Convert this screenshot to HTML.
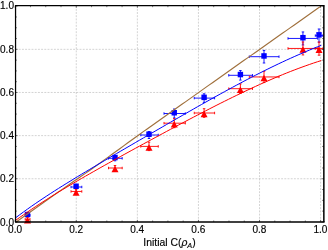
<!DOCTYPE html>
<html><head><meta charset="utf-8"><title>plot</title>
<style>html,body{margin:0;padding:0;background:#fff;}svg{display:block;}</style>
</head><body>
<svg width="328" height="250" viewBox="0 0 328 250">
<defs><filter id="nf" x="0" y="0" width="328" height="250" filterUnits="userSpaceOnUse" color-interpolation-filters="sRGB"><feColorMatrix type="matrix" values="1 0 0 0 0 0 1 0 0 0 0 0 1 0 0 0 0 0 1 0"/></filter></defs>
<rect width="328" height="250" fill="#fff"/>
<g stroke="#aeaeae" stroke-width="0.55" stroke-dasharray="1.9 1.3" fill="none"><line x1="76.28" y1="221.95" x2="76.28" y2="5.70"/><line x1="137.36" y1="221.95" x2="137.36" y2="5.70"/><line x1="198.44" y1="221.95" x2="198.44" y2="5.70"/><line x1="259.52" y1="221.95" x2="259.52" y2="5.70"/><line x1="320.60" y1="221.95" x2="320.60" y2="5.70"/><line x1="15.55" y1="178.76" x2="323.85" y2="178.76"/><line x1="15.55" y1="135.62" x2="323.85" y2="135.62"/><line x1="15.55" y1="92.48" x2="323.85" y2="92.48"/><line x1="15.55" y1="49.34" x2="323.85" y2="49.34"/></g>
<g stroke="#0000ff" stroke-width="0.9" fill="none"><path d="M25.20,215.30 H30.00 M27.50,213.70 V216.90"/><path d="M25.20,214.05 v2.50 M30.00,214.05 v2.50 M26.25,213.70 h2.50 M26.25,216.90 h2.50"/></g>
<rect x="24.80" y="211.80" width="5.4" height="5.5" fill="#0000ff"/>
<g stroke="#0000ff" stroke-width="0.9" fill="none"><path d="M71.00,187.00 H81.80 M76.10,185.20 V188.80"/><path d="M71.00,185.75 v2.50 M81.80,185.75 v2.50 M74.85,185.20 h2.50 M74.85,188.80 h2.50"/></g>
<rect x="73.40" y="183.50" width="5.4" height="5.5" fill="#0000ff"/>
<g stroke="#0000ff" stroke-width="0.9" fill="none"><path d="M108.50,158.30 H122.20 M115.00,155.80 V160.80"/><path d="M108.50,157.05 v2.50 M122.20,157.05 v2.50 M113.75,155.80 h2.50 M113.75,160.80 h2.50"/></g>
<rect x="112.30" y="154.80" width="5.4" height="5.5" fill="#0000ff"/>
<g stroke="#0000ff" stroke-width="0.9" fill="none"><path d="M140.75,135.00 H158.25 M149.00,131.50 V138.50"/><path d="M140.75,133.75 v2.50 M158.25,133.75 v2.50 M147.75,131.50 h2.50 M147.75,138.50 h2.50"/></g>
<rect x="146.30" y="131.50" width="5.4" height="5.5" fill="#0000ff"/>
<g stroke="#0000ff" stroke-width="0.9" fill="none"><path d="M164.00,113.50 H185.30 M174.25,109.00 V118.00"/><path d="M164.00,112.25 v2.50 M185.30,112.25 v2.50 M173.00,109.00 h2.50 M173.00,118.00 h2.50"/></g>
<rect x="171.55" y="110.00" width="5.4" height="5.5" fill="#0000ff"/>
<g stroke="#0000ff" stroke-width="0.9" fill="none"><path d="M194.25,98.10 H214.60 M204.10,93.80 V102.40"/><path d="M194.25,96.85 v2.50 M214.60,96.85 v2.50 M202.85,93.80 h2.50 M202.85,102.40 h2.50"/></g>
<rect x="201.40" y="94.60" width="5.4" height="5.5" fill="#0000ff"/>
<g stroke="#0000ff" stroke-width="0.9" fill="none"><path d="M228.75,75.30 H252.50 M240.40,70.50 V80.10"/><path d="M228.75,74.05 v2.50 M252.50,74.05 v2.50 M239.15,70.50 h2.50 M239.15,80.10 h2.50"/></g>
<rect x="237.70" y="71.80" width="5.4" height="5.5" fill="#0000ff"/>
<g stroke="#0000ff" stroke-width="0.9" fill="none"><path d="M249.30,56.70 H279.00 M264.00,50.40 V63.00"/><path d="M249.30,55.45 v2.50 M279.00,55.45 v2.50 M262.75,50.40 h2.50 M262.75,63.00 h2.50"/></g>
<rect x="261.30" y="53.20" width="5.4" height="5.5" fill="#0000ff"/>
<g stroke="#0000ff" stroke-width="0.9" fill="none"><path d="M288.00,38.45 H317.70 M302.95,31.95 V44.95"/><path d="M288.00,37.20 v2.50 M317.70,37.20 v2.50 M301.70,31.95 h2.50 M301.70,44.95 h2.50"/></g>
<rect x="300.25" y="34.95" width="5.4" height="5.5" fill="#0000ff"/>
<g stroke="#0000ff" stroke-width="0.9" fill="none"><path d="M315.30,35.60 H322.80 M319.00,29.00 V42.20"/><path d="M315.30,34.35 v2.50 M322.80,34.35 v2.50 M317.75,29.00 h2.50 M317.75,42.20 h2.50"/></g>
<rect x="316.30" y="32.10" width="5.4" height="5.5" fill="#0000ff"/>
<g stroke="#ff0000" stroke-width="0.9" fill="none"><path d="M25.20,219.30 H30.00 M27.50,217.70 V220.90"/><path d="M25.20,218.05 v2.50 M30.00,218.05 v2.50 M26.25,217.70 h2.50 M26.25,220.90 h2.50"/></g>
<path d="M27.50,217.10 L31.00,223.60 L24.00,223.60 Z" fill="#ff0000"/>
<g stroke="#ff0000" stroke-width="0.9" fill="none"><path d="M71.00,191.45 H81.80 M76.10,189.65 V193.25"/><path d="M71.00,190.20 v2.50 M81.80,190.20 v2.50 M74.85,189.65 h2.50 M74.85,193.25 h2.50"/></g>
<path d="M76.10,189.25 L79.60,195.75 L72.60,195.75 Z" fill="#ff0000"/>
<g stroke="#ff0000" stroke-width="0.9" fill="none"><path d="M108.50,168.00 H122.20 M115.00,165.50 V170.50"/><path d="M108.50,166.75 v2.50 M122.20,166.75 v2.50 M113.75,165.50 h2.50 M113.75,170.50 h2.50"/></g>
<path d="M115.00,165.80 L118.50,172.30 L111.50,172.30 Z" fill="#ff0000"/>
<g stroke="#ff0000" stroke-width="0.9" fill="none"><path d="M140.75,146.40 H158.25 M149.00,142.20 V150.60"/><path d="M140.75,145.15 v2.50 M158.25,145.15 v2.50 M147.75,142.20 h2.50 M147.75,150.60 h2.50"/></g>
<path d="M149.00,144.20 L152.50,150.70 L145.50,150.70 Z" fill="#ff0000"/>
<g stroke="#ff0000" stroke-width="0.9" fill="none"><path d="M164.00,123.20 H185.30 M174.25,118.70 V127.70"/><path d="M164.00,121.95 v2.50 M185.30,121.95 v2.50 M173.00,118.70 h2.50 M173.00,127.70 h2.50"/></g>
<path d="M174.25,121.00 L177.75,127.50 L170.75,127.50 Z" fill="#ff0000"/>
<g stroke="#ff0000" stroke-width="0.9" fill="none"><path d="M194.25,113.00 H214.60 M204.10,108.70 V117.30"/><path d="M194.25,111.75 v2.50 M214.60,111.75 v2.50 M202.85,108.70 h2.50 M202.85,117.30 h2.50"/></g>
<path d="M204.10,110.80 L207.60,117.30 L200.60,117.30 Z" fill="#ff0000"/>
<g stroke="#ff0000" stroke-width="0.9" fill="none"><path d="M228.75,88.70 H252.50 M240.40,83.90 V93.50"/><path d="M228.75,87.45 v2.50 M252.50,87.45 v2.50 M239.15,83.90 h2.50 M239.15,93.50 h2.50"/></g>
<path d="M240.40,86.50 L243.90,93.00 L236.90,93.00 Z" fill="#ff0000"/>
<g stroke="#ff0000" stroke-width="0.9" fill="none"><path d="M249.30,76.95 H279.00 M264.00,71.35 V82.55"/><path d="M249.30,75.70 v2.50 M279.00,75.70 v2.50 M262.75,71.35 h2.50 M262.75,82.55 h2.50"/></g>
<path d="M264.00,74.75 L267.50,81.25 L260.50,81.25 Z" fill="#ff0000"/>
<g stroke="#ff0000" stroke-width="0.9" fill="none"><path d="M288.00,48.45 H317.70 M302.95,41.95 V54.95"/><path d="M288.00,47.20 v2.50 M317.70,47.20 v2.50 M301.70,41.95 h2.50 M301.70,54.95 h2.50"/></g>
<path d="M302.95,46.25 L306.45,52.75 L299.45,52.75 Z" fill="#ff0000"/>
<g stroke="#ff0000" stroke-width="0.9" fill="none"><path d="M315.30,48.60 H322.80 M319.00,42.00 V55.20"/><path d="M315.30,47.35 v2.50 M322.80,47.35 v2.50 M317.75,42.00 h2.50 M317.75,55.20 h2.50"/></g>
<path d="M319.00,46.40 L322.50,52.90 L315.50,52.90 Z" fill="#ff0000"/>
<path d="M15.80,222.26 L19.66,219.51 L23.53,216.75 L27.39,213.98 L31.25,211.23 L35.12,208.48 L38.98,205.73 L42.84,202.99 L46.71,200.26 L50.57,197.53 L54.43,194.80 L58.30,192.08 L62.16,189.36 L66.02,186.66 L69.89,183.98 L73.75,181.32 L77.61,178.67 L81.48,176.04 L85.34,173.39 L89.20,170.70 L93.07,167.99 L96.93,165.23 L100.79,162.45 L104.66,159.65 L108.52,156.85 L112.38,154.06 L116.25,151.26 L120.11,148.47 L123.97,145.66 L127.84,142.83 L131.70,140.01 L135.56,137.20 L139.43,134.41 L143.29,131.64 L147.15,128.91 L151.02,126.19 L154.88,123.47 L158.74,120.75 L162.61,118.02 L166.47,115.29 L170.33,112.56 L174.19,109.82 L178.06,107.08 L181.92,104.34 L185.78,101.60 L189.65,98.86 L193.51,96.12 L197.37,93.38 L201.24,90.64 L205.10,87.89 L208.96,85.15 L212.83,82.41 L216.69,79.67 L220.55,76.94 L224.42,74.21 L228.28,71.48 L232.14,68.75 L236.01,66.03 L239.87,63.31 L243.73,60.58 L247.60,57.86 L251.46,55.13 L255.32,52.41 L259.19,49.69 L263.05,46.96 L266.91,44.24 L270.78,41.51 L274.64,38.79 L278.50,36.07 L282.37,33.34 L286.23,30.62 L290.09,27.89 L293.96,25.17 L297.82,22.45 L301.68,19.72 L305.55,17.00 L309.41,14.27 L313.27,11.55 L317.14,8.83 L321.00,6.10" stroke="#a0703c" stroke-width="1.15" fill="none"/>
<path d="M15.90,217.57 L19.77,214.69 L23.63,211.86 L27.50,209.08 L31.36,206.36 L35.23,203.69 L39.09,201.06 L42.96,198.47 L46.83,195.92 L50.69,193.41 L54.56,190.92 L58.42,188.47 L62.29,186.04 L66.16,183.63 L70.02,181.25 L73.89,178.88 L77.75,176.53 L81.62,174.20 L85.48,171.88 L89.35,169.57 L93.22,167.27 L97.08,164.98 L100.95,162.70 L104.81,160.43 L108.68,158.16 L112.55,155.90 L116.41,153.64 L120.28,151.38 L124.14,149.13 L128.01,146.88 L131.87,144.63 L135.74,142.38 L139.61,140.13 L143.47,137.89 L147.34,135.64 L151.20,133.40 L155.07,131.16 L158.94,128.92 L162.80,126.69 L166.67,124.45 L170.53,122.22 L174.40,119.99 L178.26,117.76 L182.13,115.54 L186.00,113.33 L189.86,111.12 L193.73,108.91 L197.59,106.71 L201.46,104.53 L205.33,102.34 L209.19,100.17 L213.06,98.01 L216.92,95.86 L220.79,93.72 L224.65,91.60 L228.52,89.49 L232.39,87.39 L236.25,85.31 L240.12,83.25 L243.98,81.20 L247.85,79.17 L251.72,77.16 L255.58,75.18 L259.45,73.21 L263.31,71.27 L267.18,69.35 L271.04,67.45 L274.91,65.58 L278.78,63.73 L282.64,61.91 L286.51,60.12 L290.37,58.36 L294.24,56.62 L298.11,54.91 L301.97,53.24 L305.84,51.59 L309.70,49.97 L313.57,48.38 L317.43,46.83 L321.30,45.30" stroke="#0000ff" stroke-width="1.0" fill="none"/>
<path d="M15.90,220.15 L19.77,217.39 L23.63,214.68 L27.50,212.02 L31.36,209.41 L35.23,206.84 L39.09,204.30 L42.96,201.81 L46.83,199.35 L50.69,196.92 L54.56,194.53 L58.42,192.16 L62.29,189.81 L66.16,187.49 L70.02,185.19 L73.89,182.91 L77.75,180.65 L81.62,178.41 L85.48,176.18 L89.35,173.97 L93.22,171.77 L97.08,169.58 L100.95,167.40 L104.81,165.23 L108.68,163.07 L112.55,160.92 L116.41,158.77 L120.28,156.64 L124.14,154.50 L128.01,152.38 L131.87,150.26 L135.74,148.14 L139.61,146.03 L143.47,143.93 L147.34,141.83 L151.20,139.73 L155.07,137.64 L158.94,135.55 L162.80,133.47 L166.67,131.39 L170.53,129.32 L174.40,127.26 L178.26,125.20 L182.13,123.15 L186.00,121.11 L189.86,119.07 L193.73,117.04 L197.59,115.02 L201.46,113.01 L205.33,111.02 L209.19,109.03 L213.06,107.05 L216.92,105.09 L220.79,103.14 L224.65,101.21 L228.52,99.29 L232.39,97.39 L236.25,95.51 L240.12,93.64 L243.98,91.79 L247.85,89.97 L251.72,88.16 L255.58,86.38 L259.45,84.62 L263.31,82.89 L267.18,81.18 L271.04,79.50 L274.91,77.84 L278.78,76.22 L282.64,74.62 L286.51,73.06 L290.37,71.53 L294.24,70.03 L298.11,68.56 L301.97,67.13 L305.84,65.74 L309.70,64.38 L313.57,63.06 L317.43,61.78 L321.30,60.54" stroke="#ff0000" stroke-width="1.0" fill="none"/>
<path d="M14.95,5.70 H324.60" stroke="#000" stroke-width="1.3" fill="none"/>
<path d="M14.95,221.95 H324.60" stroke="#000" stroke-width="1.5" fill="none"/>
<path d="M15.55,5.70 V221.95" stroke="#000" stroke-width="1.25" fill="none"/>
<path d="M323.85,5.70 V221.95" stroke="#000" stroke-width="1.5" fill="none"/>
<path d="M15.55,221.90 h2.00 M323.85,221.90 h-2.40 M15.20,221.95 v-2.10 M15.20,5.70 v2.10 M15.55,211.12 h1.40 M323.85,211.12 h-1.80 M30.47,221.95 v-1.50 M30.47,5.70 v1.50 M15.55,200.33 h1.40 M323.85,200.33 h-1.80 M45.74,221.95 v-1.50 M45.74,5.70 v1.50 M15.55,189.55 h1.40 M323.85,189.55 h-1.80 M61.01,221.95 v-1.50 M61.01,5.70 v1.50 M15.55,178.76 h2.00 M323.85,178.76 h-2.40 M76.28,221.95 v-2.10 M76.28,5.70 v2.10 M15.55,167.98 h1.40 M323.85,167.98 h-1.80 M91.55,221.95 v-1.50 M91.55,5.70 v1.50 M15.55,157.19 h1.40 M323.85,157.19 h-1.80 M106.82,221.95 v-1.50 M106.82,5.70 v1.50 M15.55,146.41 h1.40 M323.85,146.41 h-1.80 M122.09,221.95 v-1.50 M122.09,5.70 v1.50 M15.55,135.62 h2.00 M323.85,135.62 h-2.40 M137.36,221.95 v-2.10 M137.36,5.70 v2.10 M15.55,124.84 h1.40 M323.85,124.84 h-1.80 M152.63,221.95 v-1.50 M152.63,5.70 v1.50 M15.55,114.05 h1.40 M323.85,114.05 h-1.80 M167.90,221.95 v-1.50 M167.90,5.70 v1.50 M15.55,103.27 h1.40 M323.85,103.27 h-1.80 M183.17,221.95 v-1.50 M183.17,5.70 v1.50 M15.55,92.48 h2.00 M323.85,92.48 h-2.40 M198.44,221.95 v-2.10 M198.44,5.70 v2.10 M15.55,81.70 h1.40 M323.85,81.70 h-1.80 M213.71,221.95 v-1.50 M213.71,5.70 v1.50 M15.55,70.91 h1.40 M323.85,70.91 h-1.80 M228.98,221.95 v-1.50 M228.98,5.70 v1.50 M15.55,60.13 h1.40 M323.85,60.13 h-1.80 M244.25,221.95 v-1.50 M244.25,5.70 v1.50 M15.55,49.34 h2.00 M323.85,49.34 h-2.40 M259.52,221.95 v-2.10 M259.52,5.70 v2.10 M15.55,38.56 h1.40 M323.85,38.56 h-1.80 M274.79,221.95 v-1.50 M274.79,5.70 v1.50 M15.55,27.77 h1.40 M323.85,27.77 h-1.80 M290.06,221.95 v-1.50 M290.06,5.70 v1.50 M15.55,16.99 h1.40 M323.85,16.99 h-1.80 M305.33,221.95 v-1.50 M305.33,5.70 v1.50 M15.55,6.20 h2.00 M323.85,6.20 h-2.40 M320.60,221.95 v-2.10 M320.60,5.70 v2.10" stroke="#000" stroke-width="0.5" fill="none"/>
<g font-family="Liberation Sans, sans-serif" font-size="10.05px" fill="#000" stroke="#000" stroke-width="0.15" filter="url(#nf)">
<text x="14.0" y="225.70" text-anchor="end">0.0</text>
<text x="14.0" y="182.40" text-anchor="end">0.2</text>
<text x="14.0" y="139.10" text-anchor="end">0.4</text>
<text x="14.0" y="95.80" text-anchor="end">0.6</text>
<text x="14.0" y="52.50" text-anchor="end">0.8</text>
<text x="14.0" y="9.20" text-anchor="end">1.0</text>
<text x="15.05" y="232.6" text-anchor="middle">0.0</text>
<text x="76.13" y="232.6" text-anchor="middle">0.2</text>
<text x="137.21" y="232.6" text-anchor="middle">0.4</text>
<text x="198.29" y="232.6" text-anchor="middle">0.6</text>
<text x="259.37" y="232.6" text-anchor="middle">0.8</text>
<text x="320.45" y="232.6" text-anchor="middle">1.0</text>
<text x="143.3" y="246.2" font-size="10.4px">Initial C(<tspan font-style="italic">ρ</tspan><tspan font-style="italic" font-size="7.3px" dy="1.6">A</tspan><tspan dy="-1.6">)</tspan></text>
</g>
</svg>
</body></html>
